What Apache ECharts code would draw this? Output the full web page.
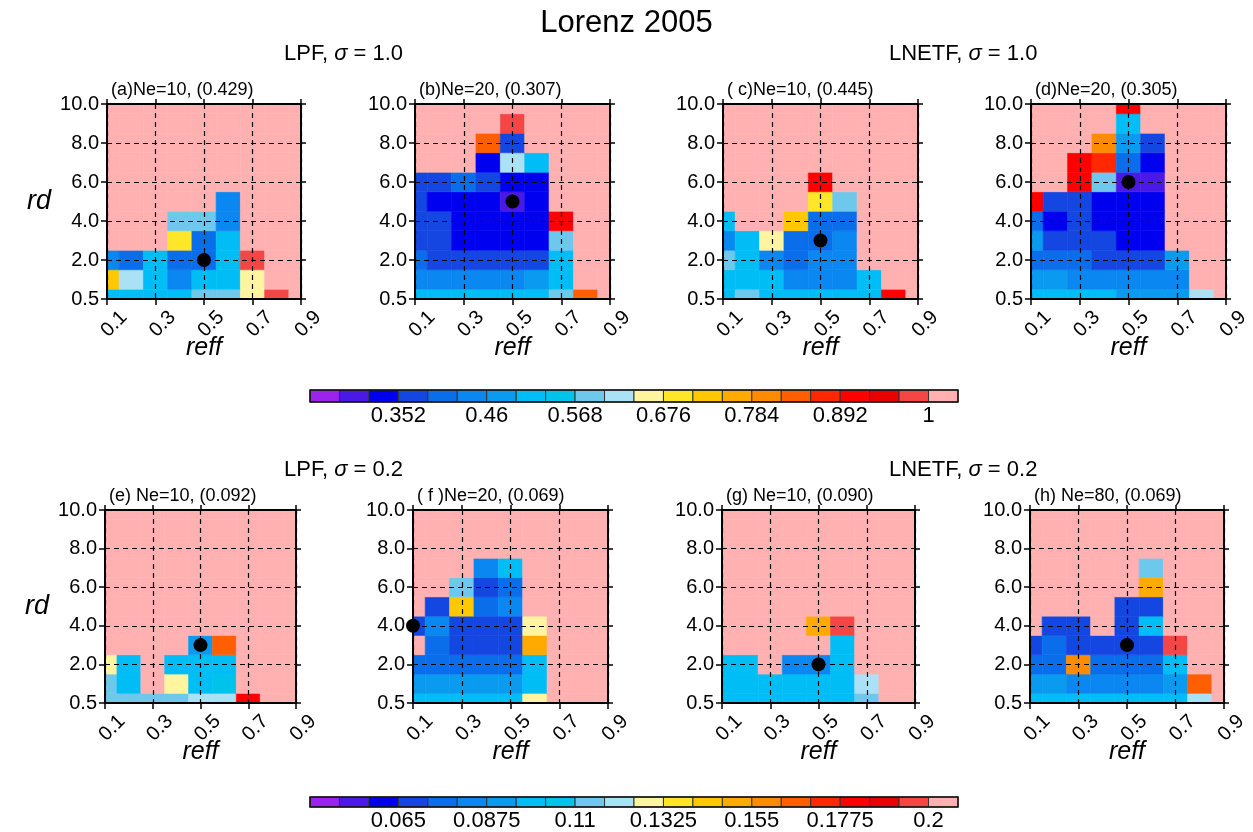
<!DOCTYPE html>
<html><head><meta charset="utf-8">
<script src="https://cdn.jsdelivr.net/npm/echarts@6/dist/echarts.min.js"></script>
<style>html,body{margin:0;padding:0;background:#fff}#chart{width:1253px;height:832px}</style>
</head><body><div id="chart"></div>
<script>
// ---------- axes ----------
const reffValues = [0.1, 0.2, 0.3, 0.4, 0.5, 0.6, 0.7, 0.8, 0.9];
const rdValues = [0.5, 1, 2, 3, 4, 5, 6, 7, 8, 9, 10];

// ---------- colour levels (21 levels -> 22 boxes) ----------
const levelsTop = [0.28, 0.316, 0.352, 0.388, 0.424, 0.46, 0.496, 0.532, 0.568, 0.604, 0.64,
                   0.676, 0.712, 0.748, 0.784, 0.82, 0.856, 0.892, 0.928, 0.964, 1.0];
const levelsBottom = [0.05, 0.0575, 0.065, 0.0725, 0.08, 0.0875, 0.095, 0.1025, 0.11, 0.1175, 0.125,
                      0.1325, 0.14, 0.1475, 0.155, 0.1625, 0.17, 0.1775, 0.185, 0.1925, 0.2];
const barLabelsTop = ['0.352', '0.46', '0.568', '0.676', '0.784', '0.892', '1'];
const barLabelsBottom = ['0.065', '0.0875', '0.11', '0.1325', '0.155', '0.1775', '0.2'];
const palette = ['#9B23EB', '#4B19E6', '#0000F0', '#1446E1', '#0A6EEB', '#0A87F0', '#0A9BF0',
                 '#00BEF5', '#00C3EB', '#6EC8EB', '#AAE1F5', '#FFF5A0', '#FFE628', '#FFC800',
                 '#FFAA00', '#FF8C00', '#FF5F00', '#FF2800', '#FF0000', '#EB0000', '#F54646', '#FFB1B1'];

// ---------- panel values: rows bottom (rd=0.5) to top (rd=10), columns reff 0.1..0.9 ----------
const panelA = [
  [0.514, 0.514, 0.514, 0.514, 0.586, 0.586, 0.658, 0.982, 1.05],
  [0.73, 0.622, 0.514, 0.442, 0.514, 0.514, 0.658, 1.05, 1.05],
  [0.442, 0.406, 0.514, 0.406, 0.406, 0.514, 0.982, 1.05, 1.05],
  [1.05, 1.05, 1.05, 0.694, 0.406, 0.514, 1.05, 1.05, 1.05],
  [1.05, 1.05, 1.05, 0.586, 0.586, 0.442, 1.05, 1.05, 1.05],
  [1.05, 1.05, 1.05, 1.05, 1.05, 0.442, 1.05, 1.05, 1.05],
  [1.05, 1.05, 1.05, 1.05, 1.05, 1.05, 1.05, 1.05, 1.05],
  [1.05, 1.05, 1.05, 1.05, 1.05, 1.05, 1.05, 1.05, 1.05],
  [1.05, 1.05, 1.05, 1.05, 1.05, 1.05, 1.05, 1.05, 1.05],
  [1.05, 1.05, 1.05, 1.05, 1.05, 1.05, 1.05, 1.05, 1.05],
  [1.05, 1.05, 1.05, 1.05, 1.05, 1.05, 1.05, 1.05, 1.05]
];
const panelB = [
  [0.514, 0.514, 0.514, 0.514, 0.514, 0.514, 0.586, 0.838, 1.05],
  [0.442, 0.442, 0.442, 0.442, 0.442, 0.478, 0.514, 1.05, 1.05],
  [0.406, 0.37, 0.37, 0.37, 0.37, 0.37, 0.514, 1.05, 1.05],
  [0.37, 0.37, 0.334, 0.334, 0.334, 0.334, 0.586, 1.05, 1.05],
  [0.37, 0.37, 0.334, 0.334, 0.334, 0.334, 0.91, 1.05, 1.05],
  [0.37, 0.334, 0.334, 0.334, 0.298, 0.334, 1.05, 1.05, 1.05],
  [0.37, 0.37, 0.406, 0.37, 0.334, 0.334, 1.05, 1.05, 1.05],
  [1.05, 1.05, 1.05, 0.334, 0.622, 0.514, 1.05, 1.05, 1.05],
  [1.05, 1.05, 1.05, 0.838, 0.37, 1.05, 1.05, 1.05, 1.05],
  [1.05, 1.05, 1.05, 1.05, 0.982, 1.05, 1.05, 1.05, 1.05],
  [1.05, 1.05, 1.05, 1.05, 1.05, 1.05, 1.05, 1.05, 1.05]
];
const panelC = [
  [0.514, 0.586, 0.514, 0.514, 0.514, 0.514, 0.514, 0.91, 1.05],
  [0.514, 0.514, 0.514, 0.442, 0.442, 0.442, 0.514, 1.05, 1.05],
  [0.586, 0.514, 0.442, 0.406, 0.442, 0.442, 1.05, 1.05, 1.05],
  [0.442, 0.514, 0.658, 0.406, 0.406, 0.442, 1.05, 1.05, 1.05],
  [0.514, 1.05, 1.05, 0.73, 0.406, 0.406, 1.05, 1.05, 1.05],
  [1.05, 1.05, 1.05, 1.05, 0.694, 0.586, 1.05, 1.05, 1.05],
  [1.05, 1.05, 1.05, 1.05, 0.91, 1.05, 1.05, 1.05, 1.05],
  [1.05, 1.05, 1.05, 1.05, 1.05, 1.05, 1.05, 1.05, 1.05],
  [1.05, 1.05, 1.05, 1.05, 1.05, 1.05, 1.05, 1.05, 1.05],
  [1.05, 1.05, 1.05, 1.05, 1.05, 1.05, 1.05, 1.05, 1.05],
  [1.05, 1.05, 1.05, 1.05, 1.05, 1.05, 1.05, 1.05, 1.05]
];
const panelD = [
  [0.514, 0.514, 0.514, 0.514, 0.478, 0.478, 0.478, 0.622, 1.05],
  [0.478, 0.478, 0.442, 0.442, 0.442, 0.442, 0.442, 1.05, 1.05],
  [0.406, 0.406, 0.406, 0.37, 0.37, 0.37, 0.478, 1.05, 1.05],
  [0.478, 0.37, 0.37, 0.37, 0.334, 0.334, 1.05, 1.05, 1.05],
  [0.406, 0.334, 0.37, 0.334, 0.334, 0.334, 1.05, 1.05, 1.05],
  [0.91, 0.37, 0.37, 0.334, 0.334, 0.334, 1.05, 1.05, 1.05],
  [1.05, 1.05, 0.91, 0.586, 0.298, 0.298, 1.05, 1.05, 1.05],
  [1.05, 1.05, 0.91, 0.874, 0.406, 0.334, 1.05, 1.05, 1.05],
  [1.05, 1.05, 1.05, 0.802, 0.478, 0.37, 1.05, 1.05, 1.05],
  [1.05, 1.05, 1.05, 1.05, 0.514, 1.05, 1.05, 1.05, 1.05],
  [1.05, 1.05, 1.05, 1.05, 0.91, 1.05, 1.05, 1.05, 1.05]
];
const panelE = [
  [0.1138, 0.1138, 0.1138, 0.1138, 0.1213, 0.1213, 0.1813, 0.21, 0.21],
  [0.1138, 0.0988, 0.21, 0.1288, 0.0988, 0.1063, 0.21, 0.21, 0.21],
  [0.1288, 0.0988, 0.21, 0.0988, 0.0988, 0.0988, 0.21, 0.21, 0.21],
  [0.21, 0.21, 0.21, 0.21, 0.0913, 0.1663, 0.21, 0.21, 0.21],
  [0.21, 0.21, 0.21, 0.21, 0.21, 0.21, 0.21, 0.21, 0.21],
  [0.21, 0.21, 0.21, 0.21, 0.21, 0.21, 0.21, 0.21, 0.21],
  [0.21, 0.21, 0.21, 0.21, 0.21, 0.21, 0.21, 0.21, 0.21],
  [0.21, 0.21, 0.21, 0.21, 0.21, 0.21, 0.21, 0.21, 0.21],
  [0.21, 0.21, 0.21, 0.21, 0.21, 0.21, 0.21, 0.21, 0.21],
  [0.21, 0.21, 0.21, 0.21, 0.21, 0.21, 0.21, 0.21, 0.21],
  [0.21, 0.21, 0.21, 0.21, 0.21, 0.21, 0.21, 0.21, 0.21]
];
const panelF = [
  [0.0988, 0.0988, 0.0988, 0.0988, 0.0988, 0.1288, 0.21, 0.21, 0.21],
  [0.0913, 0.0913, 0.0913, 0.0913, 0.0913, 0.0988, 0.21, 0.21, 0.21],
  [0.0763, 0.0763, 0.0763, 0.0763, 0.0763, 0.0988, 0.21, 0.21, 0.21],
  [0.21, 0.0763, 0.0688, 0.0688, 0.0688, 0.1513, 0.21, 0.21, 0.21],
  [0.0688, 0.0838, 0.0688, 0.0688, 0.0688, 0.1288, 0.21, 0.21, 0.21],
  [0.21, 0.0688, 0.1438, 0.0763, 0.0838, 0.21, 0.21, 0.21, 0.21],
  [0.21, 0.21, 0.1138, 0.0688, 0.0763, 0.21, 0.21, 0.21, 0.21],
  [0.21, 0.21, 0.21, 0.0838, 0.0988, 0.21, 0.21, 0.21, 0.21],
  [0.21, 0.21, 0.21, 0.21, 0.21, 0.21, 0.21, 0.21, 0.21],
  [0.21, 0.21, 0.21, 0.21, 0.21, 0.21, 0.21, 0.21, 0.21],
  [0.21, 0.21, 0.21, 0.21, 0.21, 0.21, 0.21, 0.21, 0.21]
];
const panelG = [
  [0.0988, 0.0988, 0.0988, 0.0988, 0.0988, 0.0988, 0.1138, 0.21, 0.21],
  [0.0988, 0.0988, 0.0988, 0.0988, 0.0988, 0.0988, 0.1213, 0.21, 0.21],
  [0.0988, 0.0988, 0.21, 0.0838, 0.0838, 0.0988, 0.21, 0.21, 0.21],
  [0.21, 0.21, 0.21, 0.21, 0.21, 0.0988, 0.21, 0.21, 0.21],
  [0.21, 0.21, 0.21, 0.21, 0.1513, 0.1963, 0.21, 0.21, 0.21],
  [0.21, 0.21, 0.21, 0.21, 0.21, 0.21, 0.21, 0.21, 0.21],
  [0.21, 0.21, 0.21, 0.21, 0.21, 0.21, 0.21, 0.21, 0.21],
  [0.21, 0.21, 0.21, 0.21, 0.21, 0.21, 0.21, 0.21, 0.21],
  [0.21, 0.21, 0.21, 0.21, 0.21, 0.21, 0.21, 0.21, 0.21],
  [0.21, 0.21, 0.21, 0.21, 0.21, 0.21, 0.21, 0.21, 0.21],
  [0.21, 0.21, 0.21, 0.21, 0.21, 0.21, 0.21, 0.21, 0.21]
];
const panelH = [
  [0.0988, 0.0988, 0.0988, 0.0988, 0.0988, 0.0988, 0.0988, 0.1213, 0.21],
  [0.0913, 0.0913, 0.0838, 0.0838, 0.0838, 0.0838, 0.0913, 0.1663, 0.21],
  [0.0763, 0.0763, 0.1588, 0.0763, 0.0763, 0.0763, 0.0988, 0.21, 0.21],
  [0.0688, 0.0763, 0.0688, 0.0688, 0.0688, 0.0688, 0.1963, 0.21, 0.21],
  [0.21, 0.0688, 0.0688, 0.21, 0.0688, 0.0988, 0.21, 0.21, 0.21],
  [0.21, 0.21, 0.21, 0.21, 0.0688, 0.0688, 0.21, 0.21, 0.21],
  [0.21, 0.21, 0.21, 0.21, 0.21, 0.1513, 0.21, 0.21, 0.21],
  [0.21, 0.21, 0.21, 0.21, 0.21, 0.1138, 0.21, 0.21, 0.21],
  [0.21, 0.21, 0.21, 0.21, 0.21, 0.21, 0.21, 0.21, 0.21],
  [0.21, 0.21, 0.21, 0.21, 0.21, 0.21, 0.21, 0.21, 0.21],
  [0.21, 0.21, 0.21, 0.21, 0.21, 0.21, 0.21, 0.21, 0.21]
];
// best (reff index, rd index) marked with a black dot
const bestPoints = [[4, 2], [4, 5], [4, 3], [4, 6], [4, 3], [0, 4], [4, 2], [4, 3]];
const panelTitles = ['(a)Ne=10, (0.429)', '(b)Ne=20, (0.307)', '( c)Ne=10, (0.445)', '(d)Ne=20, (0.305)',
                     '(e) Ne=10, (0.092)', '( f )Ne=20, (0.069)', '(g) Ne=10, (0.090)', '(h) Ne=80, (0.069)'];

// ---------- layout ----------
const FONT = '"Liberation Sans", Arial, Helvetica, sans-serif';
const gridPos = [
  [107, 104, 194, 195], [415, 104, 195, 195], [723, 104, 195, 195], [1031, 104, 195, 195],
  [105, 510, 191, 193], [413, 510, 195, 193], [722, 510, 193, 193], [1030, 510, 194, 193]
];
const panelData = [panelA, panelB, panelC, panelD, panelE, panelF, panelG, panelH];

function boxIndex(v, levels) { let k = 0; for (const l of levels) { if (v >= l) k++; } return k; }

const grids = [], xAxes = [], yAxes = [], series = [], titles = [];
const black = '#000';

panelData.forEach((rows, i) => {
  const [l, t, w, h] = gridPos[i];
  const levels = i < 4 ? levelsTop : levelsBottom;
  grids.push({ left: l, top: t, width: w, height: h, show: false });
  const xi = xAxes.length, yi = yAxes.length;
  xAxes.push({
    type: 'value', gridIndex: i, min: 0, max: 8, interval: 2, position: 'bottom', z: 5,
    axisLine: { show: true, onZero: false, lineStyle: { color: black, width: 2 } },
    axisTick: { show: true, length: 6, lineStyle: { color: black, width: 1.5 } },
    axisLabel: { rotate: 45, fontSize: 20, color: black, fontFamily: FONT, margin: 18,
      align: 'center', verticalAlign: 'top', formatter: v => reffValues[v].toFixed(1) },
    splitLine: { show: true, lineStyle: { color: black, type: [5, 4], width: 1.2 } },
    name: 'reff', nameLocation: 'middle', nameGap: 37, nameMoveOverlap: false,
    nameTextStyle: { fontSize: 25, fontStyle: 'italic', fontFamily: FONT, color: black }
  });
  xAxes.push({
    type: 'value', gridIndex: i, min: 0, max: 8, interval: 2, position: 'top', z: 5,
    axisLine: { show: true, onZero: false, lineStyle: { color: black, width: 2 } },
    axisTick: { show: true, length: 5, lineStyle: { color: black, width: 1.5 } },
    axisLabel: { show: false }, splitLine: { show: false }
  });
  yAxes.push({
    type: 'value', gridIndex: i, min: 0, max: 10, interval: 2, position: 'left', z: 5,
    axisLine: { show: true, onZero: false, lineStyle: { color: black, width: 2 } },
    axisTick: { show: true, length: 6, lineStyle: { color: black, width: 1.5 } },
    axisLabel: { fontSize: 20, color: black, fontFamily: FONT, margin: 8, formatter: v => rdValues[v].toFixed(1) },
    splitLine: { show: true, lineStyle: { color: black, type: [5, 4], width: 1.2 } },
    name: (i % 4 === 0) ? 'rd' : '', nameLocation: 'middle', nameRotate: 0, nameGap: 56,
    nameTextStyle: { fontSize: 27, fontStyle: 'italic', fontFamily: FONT, color: black }
  });
  yAxes.push({
    type: 'value', gridIndex: i, min: 0, max: 10, interval: 2, position: 'right', z: 5,
    axisLine: { show: true, onZero: false, lineStyle: { color: black, width: 2 } },
    axisTick: { show: true, length: 5, lineStyle: { color: black, width: 1.5 } },
    axisLabel: { show: false }, splitLine: { show: false }
  });
  const cells = [];
  rows.forEach((row, r) => row.forEach((v, c) => cells.push([c, r, v])));
  series.push({
    type: 'custom', xAxisIndex: xi, yAxisIndex: yi, z: 2, silent: true, data: cells,
    renderItem: (params, api) => {
      const c = api.value(0), r = api.value(1), v = api.value(2);
      const p0 = api.coord([c - 0.5, r - 0.5]);
      const p1 = api.coord([c + 0.5, r + 0.5]);
      const cs = params.coordSys;
      const rect = echarts.graphic.clipRectByRect(
        { x: p0[0], y: p1[1], width: p1[0] - p0[0], height: p0[1] - p1[1] },
        { x: cs.x, y: cs.y, width: cs.width, height: cs.height });
      if (!rect) return;
      const col = palette[boxIndex(v, levels)];
      return { type: 'rect', shape: rect, style: { fill: col, stroke: col, lineWidth: 0.6 } };
    }
  });
  series.push({
    type: 'scatter', xAxisIndex: xi, yAxisIndex: yi, z: 10, silent: true, clip: false,
    data: [bestPoints[i]], symbol: 'circle', symbolSize: 14, itemStyle: { color: black, opacity: 1 }
  });
  titles.push({ text: panelTitles[i], left: l - 1, top: t - 28,
    textStyle: { fontSize: 18, fontWeight: 'normal', fontFamily: FONT, color: black } });
});

// ---------- colour bars ----------
[[levelsTop, barLabelsTop, 390], [levelsBottom, barLabelsBottom, 797]].forEach(([levels, labels, top], k) => {
  const gi = grids.length;
  grids.push({ left: 310, top: top, width: 648, height: 12, show: true, z: 6,
    borderColor: '#111', borderWidth: 1.5, backgroundColor: 'transparent' });
  const xi = xAxes.length, yi = yAxes.length;
  xAxes.push({
    type: 'value', gridIndex: gi, min: 0, max: levels.length + 1, interval: 1, position: 'bottom',
    axisLine: { show: false }, axisTick: { show: false }, splitLine: { show: false },
    axisLabel: { fontSize: 22, color: black, fontFamily: FONT, margin: 3,
      formatter: v => (v > 0 && v % 3 === 0) ? labels[v / 3 - 1] : '' }
  });
  yAxes.push({ type: 'value', gridIndex: gi, min: 0, max: 1, show: false });
  const boxes = palette.map((c, i) => [i, i]);
  series.push({
    type: 'custom', xAxisIndex: xi, yAxisIndex: yi, silent: true, data: boxes,
    renderItem: (params, api) => {
      const i = api.value(0);
      const p0 = api.coord([i, 0]), p1 = api.coord([i + 1, 1]);
      return { type: 'rect', shape: { x: p0[0], y: p1[1], width: p1[0] - p0[0], height: p0[1] - p1[1] },
        style: { fill: palette[api.value(1)], stroke: '#333', lineWidth: 1 } };
    }
  });
});

titles.push({ text: 'Lorenz 2005', left: 'center', top: 3,
  textStyle: { fontSize: 31, fontWeight: 'normal', fontFamily: FONT, color: black } });
const sub = (name, s, x, y) => ({
  text: '{n|' + name + ', }{s|σ}{n| = ' + s + '}', left: x, top: y,
  textStyle: { fontWeight: 'normal', rich: {
    n: { fontSize: 22, fontFamily: FONT, fontWeight: 'normal', color: black },
    s: { fontSize: 22, fontFamily: FONT, fontWeight: 'normal', fontStyle: 'italic', color: black } } }
});
titles.push(sub('LPF', '1.0', 279, 38), sub('LNETF', '1.0', 884, 38),
            sub('LPF', '0.2', 279, 454), sub('LNETF', '0.2', 884, 454));

const chart = echarts.init(document.getElementById('chart'));
chart.setOption({
  animation: false, backgroundColor: '#fff',
  title: titles, grid: grids, xAxis: xAxes, yAxis: yAxes, series: series
});
</script></body></html>
